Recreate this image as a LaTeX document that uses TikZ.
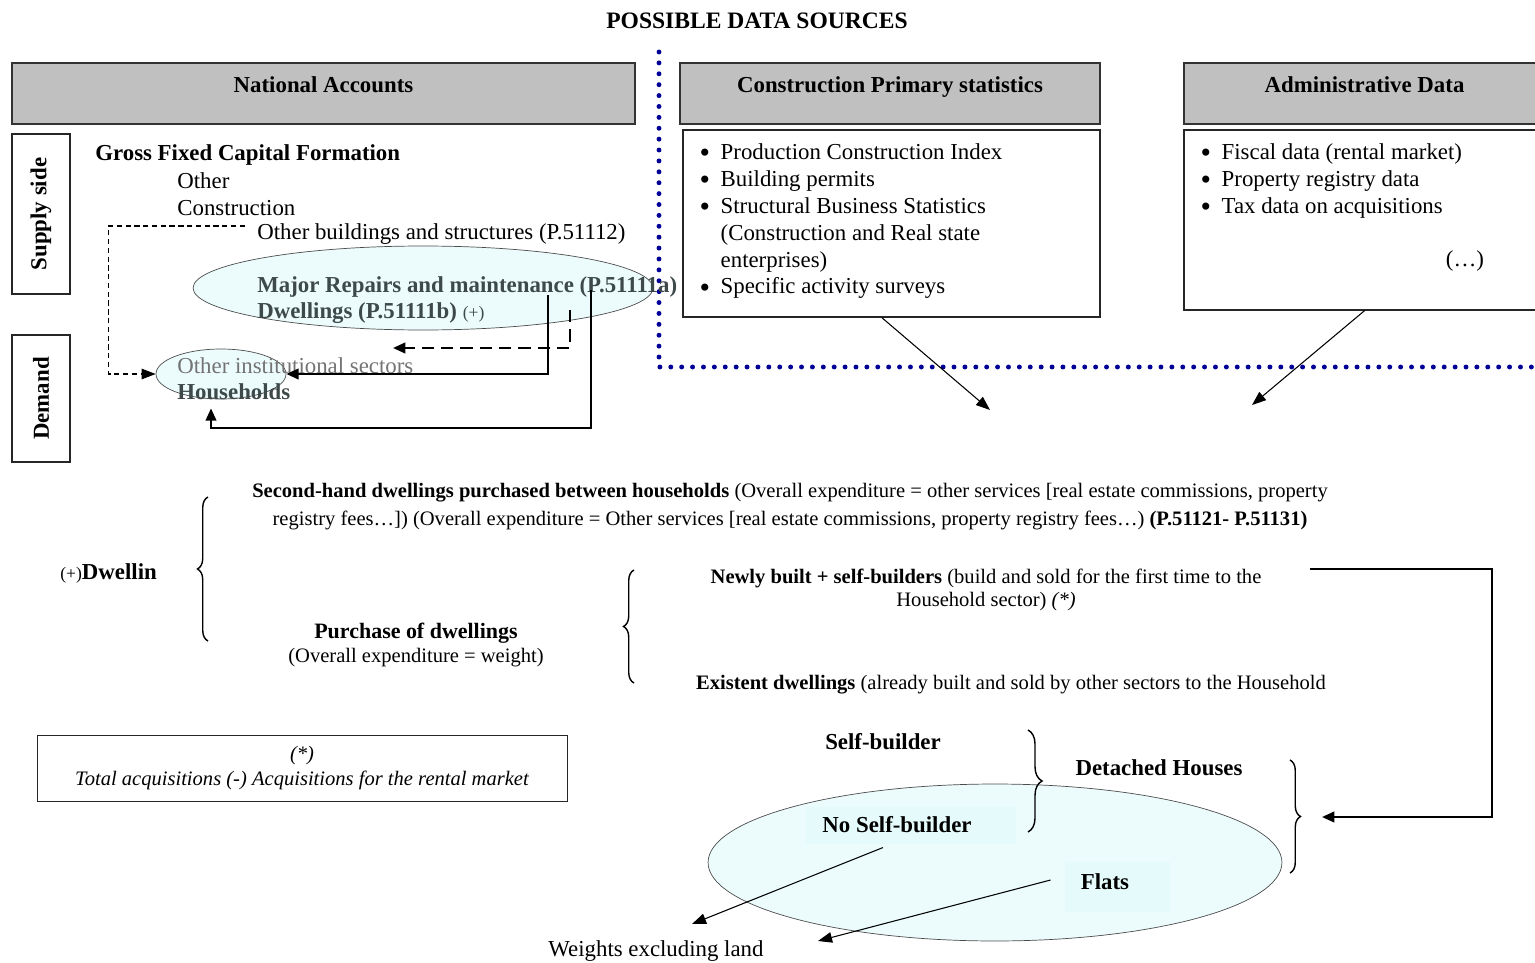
\documentclass[tikz,border=0pt]{standalone}
\usepackage{fontspec}
\setmainfont{Liberation Serif}
\usetikzlibrary{shapes.geometric,decorations.pathreplacing,calc,arrows.meta}

\definecolor{headgray}{RGB}{192,192,192}
\definecolor{bubblecyan}{RGB}{236,252,253}
\definecolor{patchcyan}{RGB}{229,250,251}
\definecolor{slate}{RGB}{62,74,74}
\definecolor{dotblue}{RGB}{0,0,150}

\tikzstyle{header}=[rectangle,
    thick,
    draw=black!80,
    fill=headgray,
    minimum height=1.22cm,
    text height=0.3cm,
    text depth=0.35cm,
    font=\fontsize{13}{15}\selectfont\bfseries]
\tikzstyle{listbox}=[rectangle, thick, draw=black!85]
\tikzstyle{sidebox}=[rectangle, thick, draw=black!85, rotate=90,
    minimum height=1.16cm, font=\fontsize{13}{15}\selectfont\bfseries]
\tikzstyle{bubble}=[ellipse, draw=black!70, fill=bubblecyan, inner sep=0]
\tikzstyle{patch}=[rectangle, fill=patchcyan, inner sep=0]
\tikzstyle{txt}=[inner sep=0, font=\fontsize{13}{15.3}\selectfont]
\tikzstyle{smalltxt}=[inner sep=0, font=\fontsize{11.7}{14}\selectfont]
\tikzstyle{brace}=[decorate, decoration={brace, amplitude=6pt}, thick]
\tikzstyle{flow}=[-{Triangle[length=7pt,width=6pt]}, line width=1.3pt]
\tikzstyle{pointer}=[-{Triangle[length=8pt,width=6pt]}, semithick]
\tikzstyle{dots}=[dotblue, line width=2.8pt, line cap=round, dash pattern=on 0pt off 6.2pt]

\newcommand{\blt}{\raisebox{-1.8pt}{\fontsize{17}{15}\selectfont\textbullet}}

\begin{document}
\begin{tikzpicture}[x=0.02cm, y=-0.02cm]
\useasboundingbox (0,0) rectangle (1535,963);

% title and data sources
\node[txt, font=\fontsize{13.4}{15}\selectfont\bfseries] (title) at (757,21) {POSSIBLE DATA SOURCES};
\draw[dots] (659,52) -- (659,367) -- (1545,367);

\node[header, minimum width=12.46cm] (na) at (323.5,93.5) {National Accounts};
\node[header, minimum width=8.4cm] (cps) at (890,93.5) {Construction Primary statistics};
\node[header, minimum width=7.22cm] (adm) at (1364.5,93.5) {Administrative Data};

\node[listbox, minimum width=8.34cm, minimum height=3.74cm] (cpsbox) at (891.5,223.5) {};
\node[listbox, minimum width=7.22cm, minimum height=3.6cm] (admbox) at (1364.5,220) {};

\node[txt, anchor=north west] (cpslist) at ($(cpsbox.north west)+(17,11)$) {%
  \begin{tabular}{@{}l@{\hspace{6pt}}l@{}}
  \blt & Production Construction Index\\
  \blt & Building permits\\
  \blt & Structural Business Statistics\\
       & (Construction and Real state\\
       & enterprises)\\
  \blt & Specific activity surveys
  \end{tabular}};
\node[txt, anchor=north west] (admlist) at ($(admbox.north west)+(17,11)$) {%
  \begin{tabular}{@{}l@{\hspace{6pt}}l@{}}
  \blt & Fiscal data (rental market)\\
  \blt & Property registry data\\
  \blt & Tax data on acquisitions
  \end{tabular}};
\node[txt] (etc) at (1465,261) {(\dots)};

\coordinate (cpsend) at (990,410);
\coordinate (admend) at (1252,405);
\draw[pointer] ($(cpsbox.south west)!0.477!(cpsbox.south east)$) -- (cpsend);
\draw[pointer] ($(admbox.south west)!0.5!(admbox.south east)$) -- (admend);

% national accounts
\node[sidebox, minimum width=3.2cm] (supply) at (41,214) {Supply side};
\node[sidebox, minimum width=2.54cm] (demand) at (41,398.5) {Demand};

\node[txt, anchor=west, font=\fontsize{13}{15}\selectfont\bfseries] (gfcf) at (95,155) {Gross Fixed Capital Formation};
\node[txt, anchor=west] (other) at (177,181) {Other};
\node[txt, anchor=west] (constr) at (177,208) {Construction};
\node[txt, anchor=west] (obs) at (257,234) {Other buildings and structures (P.51112)};

\node[bubble, minimum width=9.2cm, minimum height=1.68cm] (repbub) at (423,288) {};
\node[bubble, minimum width=2.6cm, minimum height=1.0cm] (hhbub) at (221,374) {};

\node[txt, anchor=west, text=slate, font=\fontsize{13}{15}\selectfont\bfseries] (mrm) at (257,287) {Major Repairs and maintenance (P.51111a)};
\node[txt, anchor=west, text=slate, font=\fontsize{13}{15}\selectfont\bfseries] (dw) at (257,313) {Dwellings (P.51111b) {\mdseries\fontsize{10}{12}\selectfont(+)}};
\node[txt, anchor=west, text=black!55] (ois) at (177,366) {Other institutional sectors};
\node[txt, anchor=west, text=slate, font=\fontsize{13}{15}\selectfont\bfseries] (hh) at (177,392) {Households};

\draw[densely dashed, pointer] ($(obs.west)+(-12,-8)$) -| ($(hhbub.west)+(-47,0)$) -- (hhbub.west);

\coordinate (m1) at (548,295);
\coordinate (m2) at (570,310);
\coordinate (m2end) at (393,348);
\coordinate (m3) at (591,290);
\draw[flow] (m1) |- (hhbub.east);
\draw[flow, dash pattern=on 7pt off 4pt] (m2) |- (m2end);
\draw[flow] (m3) |- ($(hhbub.south)+(-10,29)$) -- ($(hhbub.south)+(-10,9)$);

% purchase of dwellings
\node[smalltxt] (sh1) at (790,493) {\textbf{Second-hand dwellings purchased between households} (Overall expenditure = other services [real estate commissions, property};
\node[smalltxt] (sh2) at (790,520) {registry fees\dots]) (Overall expenditure = Other services [real estate commissions, property registry fees\dots) \textbf{(P.51121- P.51131)}};
\node[txt, anchor=west] (dwellin) at (60,573) {{\fontsize{10}{12}\selectfont(+)}\textbf{Dwellin}};
\draw[brace] (208,641) -- (208,497);

\node[smalltxt, font=\fontsize{12.5}{15}\selectfont\bfseries] (pod) at (416,633) {Purchase of dwellings};
\node[smalltxt] (poe) at (416,658) {(Overall expenditure = weight)};
\draw[brace] (634,683) -- (634,570);

\node[smalltxt] (nb1) at (986,578) {\textbf{Newly built + self-builders} (build and sold for the first time to the};
\node[smalltxt] (nb2) at (986,602) {Household sector) \textit{(*)}};
\node[smalltxt] (ex) at (1011,685) {\textbf{Existent dwellings} (already built and sold by other sectors to the Household};

\coordinate (nbend) at (1310,569);
\coordinate (dhtip) at (1322,817);
\draw[flow] (nbend) -- (1492,569) |- (dhtip);

% footnote
\node[listbox, thin, minimum width=10.6cm, minimum height=1.32cm, align=center,
      font=\fontsize{11.7}{14}\selectfont\itshape] (foot) at (302,768)
      {(*)\\Total acquisitions (-) Acquisitions for the rental market};

% dwelling types
\node[bubble, minimum width=11.48cm, minimum height=3.14cm] (typebub) at (995,862.5) {};
\node[patch, minimum width=4.2cm, minimum height=0.74cm] (nsbpatch) at (911,825) {};
\node[patch, minimum width=2.1cm, minimum height=1.0cm] (flatpatch) at (1117,887) {};
\node[txt, font=\fontsize{13}{15}\selectfont\bfseries] (nsb) at (897,825) {No Self-builder};
\node[txt, font=\fontsize{13}{15}\selectfont\bfseries] (flats) at (1105,882) {Flats};
\node[txt, font=\fontsize{13}{15}\selectfont\bfseries] (sb) at (883,742) {Self-builder};
\node[txt, font=\fontsize{13}{15}\selectfont\bfseries] (dh) at (1159,768) {Detached Houses};
\draw[brace, decoration={amplitude=8pt}] (1028,730) -- (1028,832);
\draw[brace] (1290,760) -- (1290,873);

\node[txt] (wel) at (656,951) {Weights excluding land};
\coordinate (welA) at (692,924);
\coordinate (welB) at (818,941);
\draw[pointer] ($(nsb.south)+(-14,14)$) -- (welA);
\draw[pointer] ($(flats.west)+(-30,-2)$) -- (welB);
\end{tikzpicture}
\end{document}
